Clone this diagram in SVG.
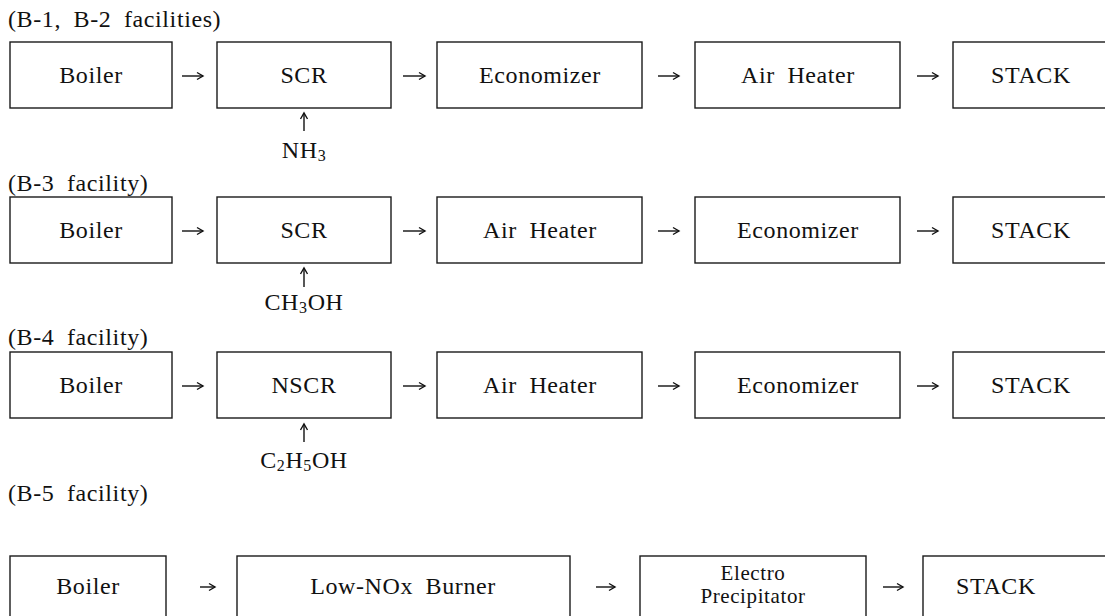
<svg xmlns="http://www.w3.org/2000/svg" width="1105" height="616" viewBox="0 0 1105 616">
<style>
  .box { fill: #fff; stroke: #1a1a1a; stroke-width: 1.4; }
  .t { font-family: "Liberation Serif", "DejaVu Serif", serif; font-size: 24px; fill: #111; text-anchor: middle; letter-spacing: 0.6px; word-spacing: 6px; }
  .title { font-family: "Liberation Serif", "DejaVu Serif", serif; font-size: 24px; fill: #111; letter-spacing: 0.6px; word-spacing: 6px; }
  .sub { font-size: 16px; }
  .arr { stroke: #111; stroke-width: 1.4; fill: none; }
</style>
<defs>
  <marker id="ah" markerUnits="userSpaceOnUse" markerWidth="10" markerHeight="10" refX="8" refY="5" orient="auto">
    <path d="M2,1.5 L8,5 L2,8.5" fill="none" stroke="#111" stroke-width="1.4"/>
  </marker>
</defs>
<rect width="1105" height="616" fill="#fff"/>

<!-- Titles -->
<text class="title" x="8" y="27">(B-1, B-2 facilities)</text>
<text class="title" x="8" y="191">(B-3 facility)</text>
<text class="title" x="8" y="345">(B-4 facility)</text>
<text class="title" x="8" y="501">(B-5 facility)</text>

<!-- Row 1 -->
<g id="r1-boiler"><rect class="box" x="10" y="42" width="162" height="66"/><text class="t" x="91" y="83">Boiler</text></g>
<g id="r1-scr"><rect class="box" x="217" y="42" width="174" height="66"/><text class="t" x="304" y="83">SCR</text></g>
<g id="r1-econ"><rect class="box" x="437" y="42" width="205" height="66"/><text class="t" x="540" y="83">Economizer</text></g>
<g id="r1-air"><rect class="box" x="695" y="42" width="205" height="66"/><text class="t" x="798" y="83">Air Heater</text></g>
<g id="r1-stack"><rect class="box" x="953" y="42" width="160" height="66"/><text class="t" x="1031" y="83">STACK</text></g>
<g id="r1-nh3"><text class="t" x="304" y="158">NH<tspan class="sub" dy="3">3</tspan></text></g>

<!-- Row 2 -->
<g id="r2-boiler"><rect class="box" x="10" y="197" width="162" height="66"/><text class="t" x="91" y="238">Boiler</text></g>
<g id="r2-scr"><rect class="box" x="217" y="197" width="174" height="66"/><text class="t" x="304" y="238">SCR</text></g>
<g id="r2-air"><rect class="box" x="437" y="197" width="205" height="66"/><text class="t" x="540" y="238">Air Heater</text></g>
<g id="r2-econ"><rect class="box" x="695" y="197" width="205" height="66"/><text class="t" x="798" y="238">Economizer</text></g>
<g id="r2-stack"><rect class="box" x="953" y="197" width="160" height="66"/><text class="t" x="1031" y="238">STACK</text></g>
<g id="r2-ch3oh"><text class="t" x="304" y="310">CH<tspan class="sub" dy="3">3</tspan><tspan dy="-3">OH</tspan></text></g>

<!-- Row 3 -->
<g id="r3-boiler"><rect class="box" x="10" y="352" width="162" height="66"/><text class="t" x="91" y="393">Boiler</text></g>
<g id="r3-nscr"><rect class="box" x="217" y="352" width="174" height="66"/><text class="t" x="304" y="393">NSCR</text></g>
<g id="r3-air"><rect class="box" x="437" y="352" width="205" height="66"/><text class="t" x="540" y="393">Air Heater</text></g>
<g id="r3-econ"><rect class="box" x="695" y="352" width="205" height="66"/><text class="t" x="798" y="393">Economizer</text></g>
<g id="r3-stack"><rect class="box" x="953" y="352" width="160" height="66"/><text class="t" x="1031" y="393">STACK</text></g>
<g id="r3-c2h5oh"><text class="t" x="304" y="468">C<tspan class="sub" dy="3">2</tspan><tspan dy="-3">H</tspan><tspan class="sub" dy="3">5</tspan><tspan dy="-3">OH</tspan></text></g>

<!-- Row 4 -->
<g id="r4-boiler"><rect class="box" x="10" y="556" width="156" height="70"/><text class="t" x="88" y="594">Boiler</text></g>
<g id="r4-lownox"><rect class="box" x="237" y="556" width="333" height="70"/><text class="t" x="403" y="594">Low-NOx Burner</text></g>
<g id="r4-esp"><rect class="box" x="640" y="556" width="226" height="70"/><text class="t" x="753" y="580" style="font-size:21px">Electro</text><text class="t" x="753" y="603" style="font-size:21px">Precipitator</text></g>
<g id="r4-stack"><rect class="box" x="923" y="556" width="190" height="70"/><text class="t" x="996" y="594">STACK</text></g>

<!-- Connectors -->
<g id="connectors" class="arr">
  <line x1="182" y1="76" x2="203" y2="76" marker-end="url(#ah)"/>
  <line x1="403" y1="76" x2="425" y2="76" marker-end="url(#ah)"/>
  <line x1="658" y1="76" x2="679" y2="76" marker-end="url(#ah)"/>
  <line x1="917" y1="76" x2="938" y2="76" marker-end="url(#ah)"/>
  <line x1="304" y1="131" x2="304" y2="113" marker-end="url(#ah)"/>

  <line x1="182" y1="231" x2="203" y2="231" marker-end="url(#ah)"/>
  <line x1="403" y1="231" x2="425" y2="231" marker-end="url(#ah)"/>
  <line x1="658" y1="231" x2="679" y2="231" marker-end="url(#ah)"/>
  <line x1="917" y1="231" x2="938" y2="231" marker-end="url(#ah)"/>
  <line x1="304" y1="287" x2="304" y2="268" marker-end="url(#ah)"/>

  <line x1="182" y1="386" x2="203" y2="386" marker-end="url(#ah)"/>
  <line x1="403" y1="386" x2="425" y2="386" marker-end="url(#ah)"/>
  <line x1="658" y1="386" x2="679" y2="386" marker-end="url(#ah)"/>
  <line x1="917" y1="386" x2="938" y2="386" marker-end="url(#ah)"/>
  <line x1="304" y1="442" x2="304" y2="424" marker-end="url(#ah)"/>

  <line x1="200" y1="587" x2="215" y2="587" marker-end="url(#ah)"/>
  <line x1="596" y1="587" x2="615" y2="587" marker-end="url(#ah)"/>
  <line x1="883" y1="587" x2="903" y2="587" marker-end="url(#ah)"/>
</g>
</svg>
